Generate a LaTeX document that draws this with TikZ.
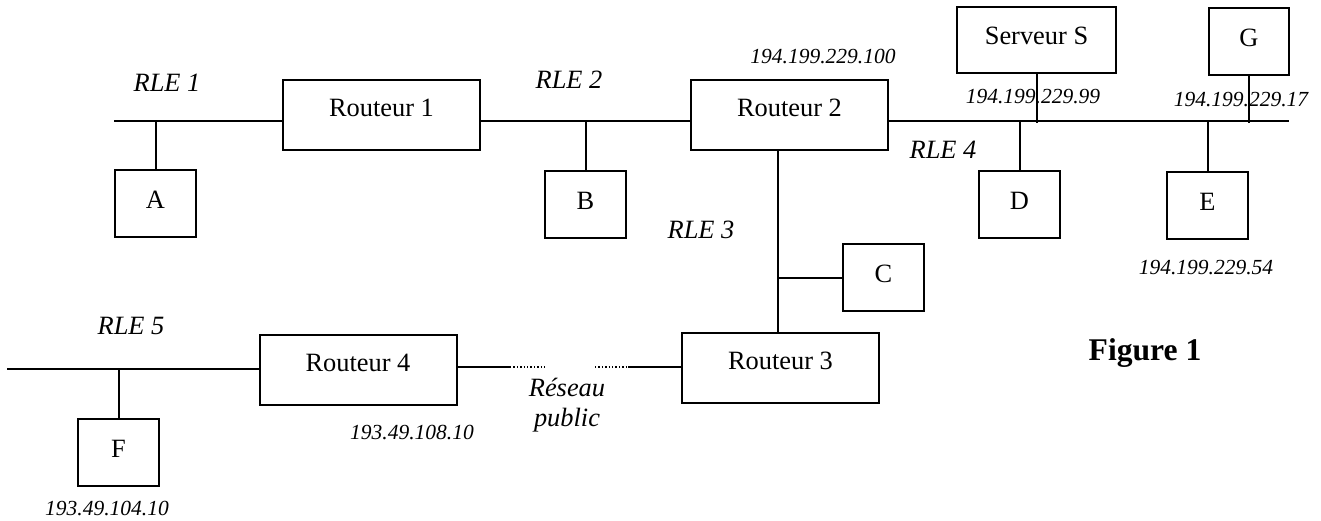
\documentclass[tikz,border=0pt]{standalone}
\usepackage{fontspec}
\setmainfont{Liberation Serif}
\tikzset{
  net/.style={line width=1pt},
  dots/.style={line width=0.7pt, dash pattern=on 0.7pt off 1pt},
  box/.style={draw, line width=1pt, inner sep=0pt, outer sep=0pt,
    font=\fontsize{13.2}{15.8}\selectfont},
  router/.style={box, minimum width=98.5pt, minimum height=35pt, text depth=7pt},
  host/.style={box, minimum width=40.5pt, minimum height=33.5pt, text depth=4pt},
  rle/.style={inner sep=0pt, font=\fontsize{13.2}{15.8}\selectfont\itshape},
  ip/.style={inner sep=0pt, font=\fontsize{10.75}{13}\selectfont\itshape},
}
\begin{document}
\begin{tikzpicture}[x=0.5pt, y=-0.5pt]
\useasboundingbox (0,0) rectangle (1321,520);
% boxes
\node[router] (R1) at (381.5,114.5) {Routeur 1};
\node[router] (R2) at (789.5,115) {Routeur 2};
\node[router] (R3) at (780.5,368) {Routeur 3};
\node[router] (R4) at (358,370) {Routeur 4};
\node[host] (A) at (155.5,203.5) {A};
\node[host] (B) at (585.5,204.5) {B};
\node[host] (C) at (883.5,277.5) {C};
\node[host] (D) at (1019.5,204.5) {D};
\node[host] (E) at (1207.5,205.5) {E};
\node[host] (F) at (118.5,452.5) {F};
\node[host, minimum width=40pt] (G) at (1249,41.5) {G};
\node[box, minimum width=79.5pt, minimum height=33pt, text depth=4pt] (S) at (1036.5,40) {Serveur S};
% labels
\node[rle] (rle1) at (167,83) {RLE 1};
\node[rle] (rle2) at (569,80) {RLE 2};
\node[rle] (rle3) at (701,230) {RLE 3};
\node[rle] (rle4) at (943,150) {RLE 4};
\node[rle] (rle5) at (131,326) {RLE 5};
\node[ip] (ip1) at (823,57) {194.199.229.100};
\node[ip] (ip2) at (1033,97) {194.199.229.99};
\node[ip] (ip3) at (1241,100) {194.199.229.17};
\node[ip] (ip4) at (1206,268) {194.199.229.54};
\node[ip] (ip5) at (412,432) {193.49.108.10};
\node[ip] (ip6) at (107,508) {193.49.104.10};
\node[rle, align=center, font=\fontsize{13.2}{15}\selectfont\itshape] (pub) at (567,405) {Réseau\\public};
\node[inner sep=0pt, font=\fontsize{15.8}{19}\selectfont\bfseries] (fig) at (1145,353) {Figure 1};
% bus coordinates
\coordinate (l1) at (114,121);
\coordinate (l2) at (480,121);
\coordinate (l4) at (1289,121);
\coordinate (v3) at (778,150);
\coordinate (l5) at (7,369);
\coordinate (d1) at (510,367);
\coordinate (d2) at (546,367);
\coordinate (d3) at (595,367);
\coordinate (d4) at (628,367);
% RLE 1
\draw[net] (l1) -- (l1 -| R1.west);
\draw[net] (A.north) -- (A.north |- l1);
% RLE 2
\draw[net] (R1.east |- l2) -- (R2.west |- l2);
\draw[net] (B.north) -- (B.north |- l2);
% RLE 4
\draw[net] (R2.east |- l4) -- (l4);
\draw[net] (S.south) -- ([yshift=-1pt]S.south |- l4);
\draw[net] (G.south) -- ([yshift=-1pt]G.south |- l4);
\draw[net] (D.north) -- (D.north |- l4);
\draw[net] (E.north) -- (E.north |- l4);
% RLE 3
\draw[net] (R2.south -| v3) -- (R3.north -| v3);
\draw[net] (C.west) -- (C.west -| v3);
% RLE 5
\draw[net] (l5) -- (R4.west |- l5);
\draw[net] (F.north) -- (F.north |- l5);
% public network
\draw[net] (R4.east |- d1) -- (d1);
\draw[dots] (d1) -- (d2);
\draw[dots] (d3) -- (d4);
\draw[net] (d4) -- (R3.west |- d4);
\end{tikzpicture}
\end{document}
